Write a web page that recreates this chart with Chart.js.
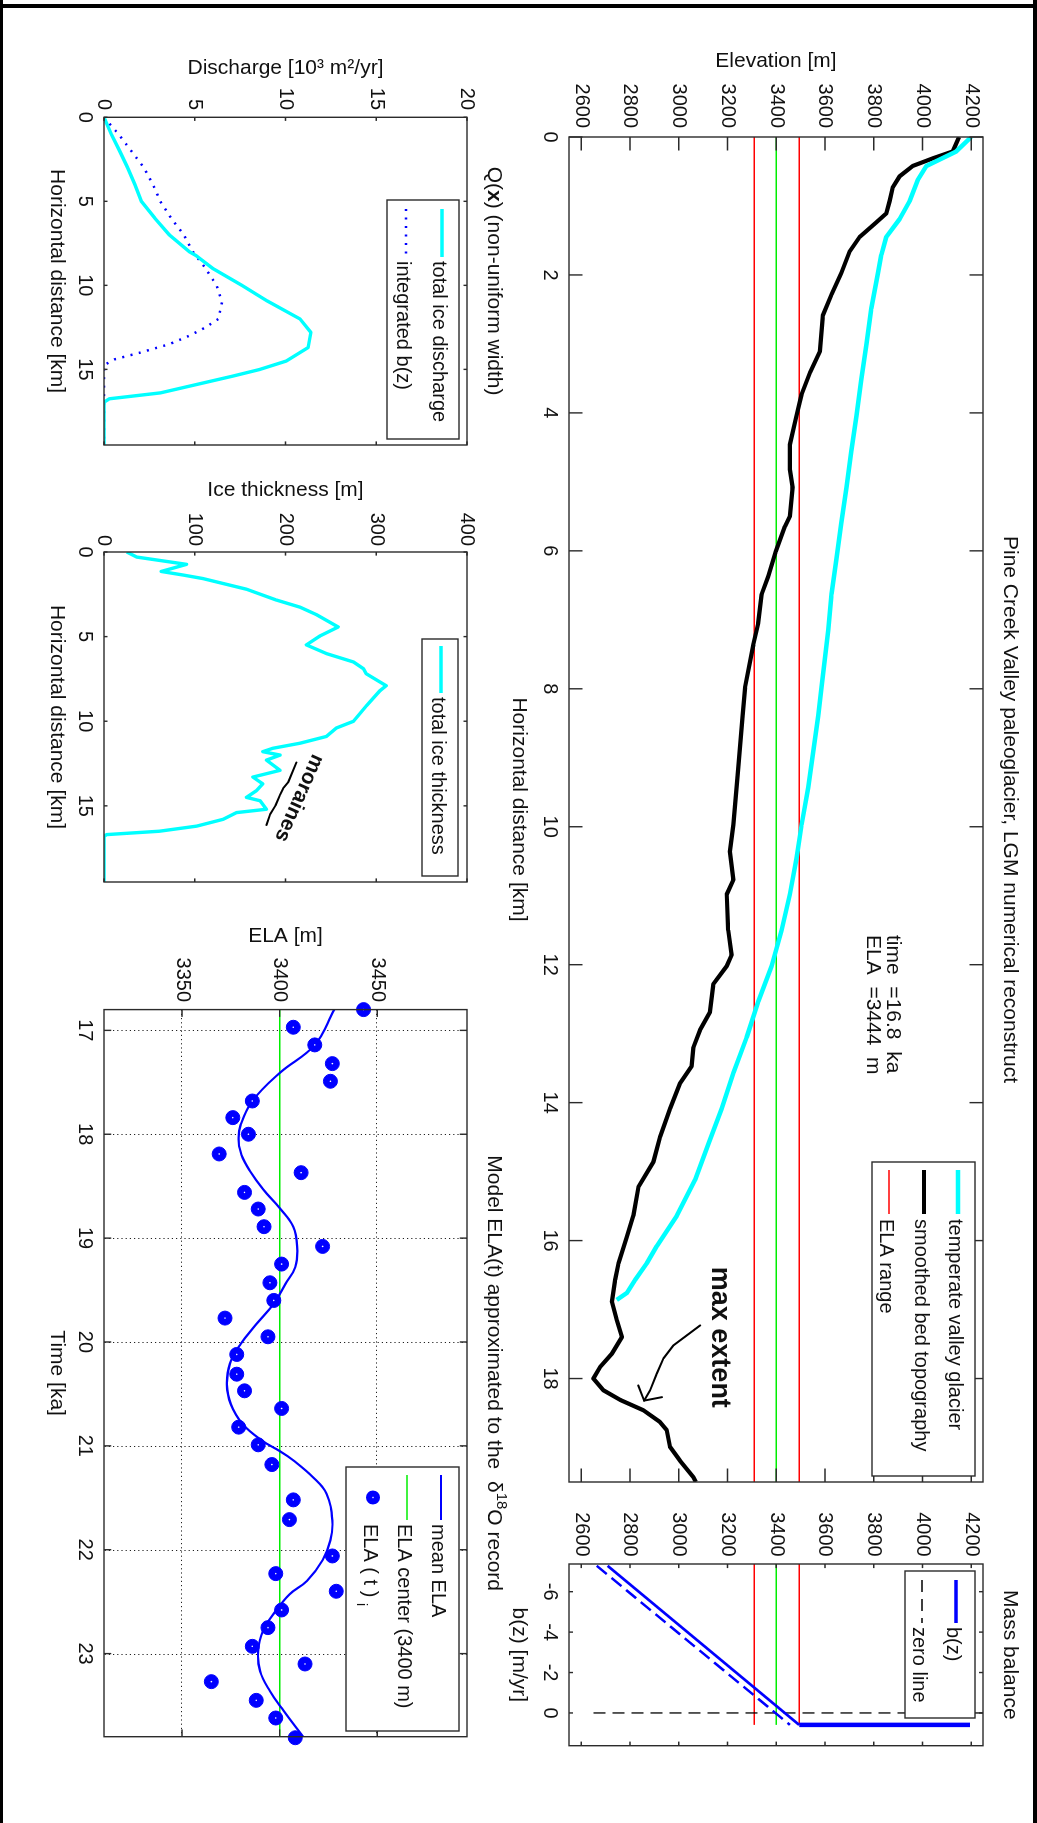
<!DOCTYPE html>
<html>
<head>
<meta charset="utf-8">
<title>Pine Creek Valley paleoglacier</title>
<script src="https://cdn.jsdelivr.net/npm/chart.js@4.4.1/dist/chart.umd.min.js"></script>
<style>
  html, body { margin: 0; padding: 0; background: #fff; }
  #page { position: relative; width: 1037px; height: 1823px; overflow: hidden; background: #fff; }
  /* the figure is laid out in landscape and turned a quarter clockwise */
  #fig { position: absolute; left: 0; top: 0; width: 1823px; height: 1037px;
         transform-origin: 0 0; transform: translate(1037px, 0) rotate(90deg); }
  #fig canvas { position: absolute; left: 0; top: 0; }
  .edge { position: absolute; background: #000; }
</style>
</head>
<body>
<div id="page">
  <div id="fig">
    <canvas id="profileChart" width="1823" height="1037"></canvas>
    <canvas id="massChart" width="1823" height="1037"></canvas>
    <canvas id="dischargeChart" width="1823" height="1037"></canvas>
    <canvas id="thicknessChart" width="1823" height="1037"></canvas>
    <canvas id="elaChart" width="1823" height="1037"></canvas>
  </div>
  <div class="edge" style="left:0;top:0;width:3px;height:1823px"></div>
  <div class="edge" style="left:0;top:4px;width:1037px;height:4px"></div>
  <div class="edge" style="left:1033px;top:0;width:4px;height:1823px"></div>
</div>
<script>
const FAMILY = '"Liberation Sans", Arial, Helvetica, sans-serif';
Chart.defaults.font.family = FAMILY;
Chart.defaults.font.size = 20;
Chart.defaults.color = '#111';

// ---- longitudinal profile ----
const distRange = [0, 19.5];
const distTicks = [0, 2, 4, 6, 8, 10, 12, 14, 16, 18];
const elevRange = [2550, 4248];
const elevTicks = [2600, 2800, 3000, 3200, 3400, 3600, 3800, 4000, 4200];

const glacierDist = [0, 0.21, 0.42, 0.62, 0.93, 1.19, 1.45, 1.71, 1.97, 2.49, 3.0, 3.52, 4.04, 4.56, 5.08, 5.6, 6.11, 6.63, 7.15, 7.98,
  8.39, 8.91, 9.43, 9.97, 10.46, 10.98, 11.5, 12.02, 12.54, 13.05, 13.57, 14.09, 14.6, 15.12, 15.64, 16.08, 16.33, 16.57, 16.76, 16.86];
const glacierElev = [4200, 4138, 4016, 3981, 3947, 3906, 3851, 3831, 3817, 3790, 3770, 3749, 3729, 3708, 3688, 3667, 3647, 3627, 3613, 3586,
  3572, 3552, 3531, 3504, 3483, 3456, 3422, 3381, 3326, 3279, 3224, 3176, 3122, 3067, 2992, 2910, 2869, 2821, 2787, 2746];

const bedDist = [0, 0.21, 0.31, 0.42, 0.57, 0.73, 0.93, 1.11, 1.24, 1.45, 1.66, 1.97, 2.28, 2.59, 3.11, 3.42, 3.73, 4.04, 4.46, 4.82,
  5.08, 5.5, 5.65, 6.01, 6.37, 6.63, 7.05, 7.36, 7.98, 8.39, 9.17, 9.97, 10.36, 10.77, 10.98, 11.5, 11.86, 12.02, 12.28, 12.69,
  12.95, 13.2, 13.47, 13.72, 14.09, 14.5, 14.86, 15.22, 15.64, 15.95, 16.33, 16.57, 16.89, 17.15, 17.4, 17.64, 17.83, 18.0, 18.17, 18.31,
  18.46, 18.63, 18.75, 18.99, 19.19, 19.43, 19.5];
const bedElev = [4150, 4124, 4042, 3960, 3906, 3878, 3865, 3851, 3810, 3742, 3701, 3667, 3627, 3591, 3579, 3538, 3504, 3483, 3456, 3456,
  3467, 3456, 3435, 3398, 3367, 3340, 3326, 3306, 3272, 3262, 3244, 3224, 3210, 3224, 3197, 3203, 3217, 3197, 3142, 3128,
  3087, 3060, 3053, 3005, 2964, 2923, 2896, 2835, 2814, 2787, 2753, 2739, 2726, 2746, 2767, 2726, 2678, 2650, 2691, 2760,
  2855, 2923, 2951, 2964, 3005, 3060, 3070];

const elaLines = [3310, 3400, 3494];   // low, centre, high

const arrowDist = [17.23, 17.52, 17.71, 17.93, 18.17, 18.32];
const arrowElev = [3088, 2978, 2937, 2910, 2883, 2858];
const arrowHeadDist = [18.1, 18.32, 18.27];
const arrowHeadElev = [2834, 2858, 2931];

// ---- mass balance ----
const rateRange = [-7.37, 1.62];
const rateTicks = [-6, -4, -2, 0];
const bzRate = [-7.28, 0.59, 0.59];
const bzElev = [2708, 3494, 4195];
const bzDashRate = [-7.28, 0.59];
const bzDashElev = [2664, 3456];
const zeroRate = [0, 0];
const zeroElev = [2650, 4248];
const rateSpan = [-7.37, 0.59];

// ---- discharge ----
const dischargeTicks = [0, 5, 10, 15, 20];
const smallDistTicks = [0, 5, 10, 15];
const qDist = [0, 1, 2, 3, 4, 5, 6, 7, 8, 8.25, 9, 10, 10.9, 12, 12.8, 13.7, 14.5, 15, 15.4, 15.9, 16.4, 16.75, 16.95, 19.5];
const qTotal = [0, 0.4, 0.86, 1.3, 1.7, 2.06, 2.8, 3.6, 4.7, 5.1, 6.0, 7.6, 8.95, 10.8, 11.4, 11.25, 10.05, 8.6, 7.1, 5.1, 3.1, 0.3, 0, 0];
const qIntDist = [0, 1, 2, 3, 4, 5, 6, 7, 8, 9, 10, 11, 12, 12.5, 13, 13.5, 14, 14.4, 14.75, 19.5];
const qIntB = [0, 0.8, 1.5, 2.2, 2.7, 3.1, 3.7, 4.4, 4.9, 5.6, 6.2, 6.5, 6.3, 5.6, 4.7, 3.6, 2.0, 0.6, 0, 0];

// ---- ice thickness ----
const thickTicks = [0, 100, 200, 300, 400];
const thickDist = [0, 0.3, 0.73, 1.15, 1.36, 1.57, 2.2, 2.84, 3.26, 3.7, 4.43, 4.96, 5.49, 6.0, 6.5, 6.9, 7.2, 7.9, 8.2, 9.1,
  10.0, 10.4, 10.9, 11.3, 11.6, 11.8, 12.0, 12.3, 12.9, 13.3, 13.7, 14.1, 14.5, 14.7, 15.2, 15.4, 15.8, 16.2, 16.5, 16.7, 16.8, 19.5];
const thickIce = [25, 36, 91, 63, 87, 109, 157, 190, 216, 234, 258, 238, 223, 245, 275, 286, 289, 311, 304, 289,
  275, 256, 245, 216, 186, 175, 194, 179, 194, 164, 175, 168, 157, 172, 179, 146, 131, 102, 61, 3, 0, 0];
const moraineDist = [12.44, 13.6, 13.92, 14.34, 14.98, 15.5, 16.13];
const moraineThick = [212, 203, 198, 194, 189, 183, 179];

// ---- model ELA ----
const timeRange = [16.8, 23.8];
const timeTicks = [17, 18, 19, 20, 21, 22, 23];
const elaRange = [3310, 3496];
const elaTicks = [3350, 3400, 3450];
const elaTime = [16.80, 16.97, 17.14, 17.32, 17.49, 17.68, 17.84, 18.00, 18.19, 18.37, 18.56, 18.72, 18.89, 19.08, 19.25, 19.43,
  19.60, 19.77, 19.95, 20.12, 20.31, 20.47, 20.64, 20.82, 20.99, 21.18, 21.52, 21.71, 22.06, 22.23, 22.40, 22.58, 22.75, 22.93,
  23.10, 23.27, 23.45, 23.62, 23.81];
const elaValue = [3443, 3407, 3418, 3427, 3426, 3386, 3376, 3384, 3369, 3411, 3382, 3389, 3392, 3422, 3401, 3395,
  3397, 3372, 3394, 3378, 3378, 3382, 3401, 3379, 3389, 3396, 3407, 3405, 3427, 3398, 3429, 3401, 3394, 3386,
  3413, 3365, 3388, 3398, 3408];
const meanTime = [16.8, 17.14, 17.41, 17.68, 17.91, 18.05, 18.2, 18.36, 18.53, 18.71, 18.89, 19.08, 19.28, 19.44, 19.63, 19.83,
  20.02, 20.21, 20.41, 20.6, 20.79, 20.95, 21.05, 21.14, 21.3, 21.46, 21.72, 21.91, 22.1, 22.3, 22.43, 22.59, 22.78, 22.98,
  23.17, 23.36, 23.55, 23.8];
const meanValue = [3428, 3418, 3400, 3386, 3380, 3379, 3380.5, 3385, 3391.5, 3400, 3407, 3409, 3408, 3403, 3397, 3388,
  3380, 3374.5, 3373, 3375, 3381, 3391, 3400, 3407, 3417, 3424, 3427, 3426, 3422, 3414, 3405, 3398, 3391.5, 3389,
  3390, 3395, 3402, 3412];
const elaCenter = [3400, 3400];

// ---------------------------------------------------------------
function pts(xs, ys) {
  return xs.map((x, i) => ({ x: x, y: ys[i] }));
}

function series(label, xs, ys, color, width, dash) {
  return {
    label: label, data: pts(xs, ys), showLine: true,
    borderColor: color, backgroundColor: color, borderWidth: width, borderDash: dash || [],
    pointRadius: 0, pointHoverRadius: 0, tension: 0, fill: false, borderJoinStyle: 'round'
  };
}

function axis(range, ticks, size, pad, title) {
  return {
    type: 'linear', min: range[0], max: range[1],
    grid: { display: false, drawTicks: false, tickLength: 0 },
    border: { display: false },
    ticks: { padding: pad, color: '#111', font: { size: 20 }, maxRotation: 0, minRotation: 0, autoSkip: false,
             callback: v => String(v) },
    title: { display: !!title, text: title || '', padding: 0, color: '#111', font: { size: 21 } },
    afterBuildTicks: s => { s.ticks = ticks.map(v => ({ value: v })); },
    afterFit: s => {
      if (s.isHorizontal()) s.height = size; else s.width = size;
      s.paddingLeft = 0; s.paddingRight = 0; s.paddingTop = 0; s.paddingBottom = 0;
    }
  };
}

function drawRuns(ctx, runs, x, y, align, size) {
  const fontOf = r => (r.bold ? 'bold ' : '') + ((r.sup || r.sub) ? Math.round(size * 0.7) : size) + 'px ' + FAMILY;
  let total = 0;
  const widths = runs.map(r => { ctx.font = fontOf(r); const w = ctx.measureText(r.t).width; total += w; return w; });
  let cx = align === 'center' ? x - total / 2 : x;
  ctx.textAlign = 'left';
  runs.forEach((r, i) => {
    ctx.font = fontOf(r);
    const dy = r.sup ? -size * 0.42 : (r.sub ? size * 0.35 : 0);
    ctx.fillText(r.t, cx, y + dy);
    cx += widths[i];
  });
}

function drawNote(chart, n) {
  const ctx = chart.ctx, sx = chart.scales.x, sy = chart.scales.y;
  ctx.save();
  if (n.kind === 'path') {
    ctx.strokeStyle = n.color; ctx.lineWidth = n.width; ctx.lineJoin = 'round'; ctx.lineCap = 'round';
    n.paths.forEach(p => {
      ctx.beginPath();
      p[0].forEach((v, i) => {
        const px = sx.getPixelForValue(v), py = sy.getPixelForValue(p[1][i]);
        if (i) ctx.lineTo(px, py); else ctx.moveTo(px, py);
      });
      ctx.stroke();
    });
  } else {
    ctx.translate(sx.getPixelForValue(n.x), sy.getPixelForValue(n.y));
    ctx.rotate((n.angle || 0) * Math.PI / 180);
    ctx.fillStyle = '#111'; ctx.font = n.font;
    ctx.textAlign = n.align || 'left'; ctx.textBaseline = n.baseline || 'alphabetic';
    n.lines.forEach((s, i) => ctx.fillText(s, 0, i * (n.gap || 0)));
  }
  ctx.restore();
}

function drawLegend(chart, L) {
  const ctx = chart.ctx;
  ctx.save();
  ctx.fillStyle = '#fff';
  ctx.fillRect(L.box[0], L.box[1], L.box[2] - L.box[0], L.box[3] - L.box[1]);
  ctx.strokeStyle = '#2b2b2b'; ctx.lineWidth = 1.4;
  ctx.strokeRect(L.box[0], L.box[1], L.box[2] - L.box[0], L.box[3] - L.box[1]);
  L.rows.forEach(r => {
    const ds = chart.data.datasets[r.ds];
    const y = r.y - 9;
    if (r.marker) {
      const cx = (L.sample[0] + L.sample[1]) / 2;
      ctx.fillStyle = ds.backgroundColor;
      ctx.beginPath(); ctx.arc(cx, y, ds.pointRadius, 0, 2 * Math.PI); ctx.fill();
      ctx.fillStyle = '#fff';
      ctx.beginPath(); ctx.arc(cx, y, 0.8, 0, 2 * Math.PI); ctx.fill();
    } else {
      ctx.strokeStyle = ds.borderColor; ctx.lineWidth = r.width || ds.borderWidth;
      ctx.setLineDash(ds.borderDash || []);
      ctx.beginPath(); ctx.moveTo(L.sample[0], y); ctx.lineTo(L.sample[1], y); ctx.stroke();
      ctx.setLineDash([]);
    }
    ctx.fillStyle = '#111'; ctx.textBaseline = 'alphabetic';
    drawRuns(ctx, r.runs || [{ t: ds.label }], L.textX, r.y, 'left', 20);
  });
  ctx.restore();
}

// box, inward ticks, grid, notes, title and legend in the MATLAB manner
function decor(o) {
  return {
    id: 'decor',
    beforeDatasetsDraw(chart) {
      if (!o.grid) return;
      const { ctx, chartArea: a } = chart;
      const sx = chart.scales.x, sy = chart.scales.y;
      ctx.save();
      ctx.strokeStyle = '#222'; ctx.lineWidth = 1; ctx.setLineDash([1.2, 3]);
      ctx.beginPath();
      sx.ticks.forEach(t => { const p = Math.round(sx.getPixelForValue(t.value)) + 0.5; ctx.moveTo(p, a.top); ctx.lineTo(p, a.bottom); });
      sy.ticks.forEach(t => { const p = Math.round(sy.getPixelForValue(t.value)) + 0.5; ctx.moveTo(a.left, p); ctx.lineTo(a.right, p); });
      ctx.stroke();
      ctx.restore();
    },
    afterDatasetsDraw(chart) {
      const { ctx, chartArea: a } = chart;
      const sx = chart.scales.x, sy = chart.scales.y, len = o.tick;
      ctx.save();
      ctx.strokeStyle = '#2b2b2b'; ctx.lineWidth = 1.4;
      ctx.strokeRect(a.left, a.top, a.right - a.left, a.bottom - a.top);
      ctx.beginPath();
      sx.ticks.forEach(t => {
        const p = sx.getPixelForValue(t.value);
        ctx.moveTo(p, a.bottom); ctx.lineTo(p, a.bottom - len);
        ctx.moveTo(p, a.top); ctx.lineTo(p, a.top + len);
      });
      sy.ticks.forEach(t => {
        const p = sy.getPixelForValue(t.value);
        ctx.moveTo(a.left, p); ctx.lineTo(a.left + len, p);
        ctx.moveTo(a.right, p); ctx.lineTo(a.right - len, p);
      });
      ctx.stroke();
      ctx.restore();
      (o.notes || []).forEach(n => drawNote(chart, n));
      if (o.title) {
        ctx.save();
        ctx.fillStyle = '#111'; ctx.textBaseline = 'alphabetic';
        drawRuns(ctx, o.title, (a.left + a.right) / 2, a.top - 21, 'center', 21);
        ctx.restore();
      }
    },
    afterDraw(chart) {
      if (o.legend) drawLegend(chart, o.legend);
    }
  };
}

function panel(id, datasets, o) {
  return new Chart(document.getElementById(id), {
    type: 'scatter',
    data: { datasets: datasets },
    options: {
      responsive: false, animation: false, devicePixelRatio: 1, events: [],
      layout: { padding: o.pad },
      plugins: { legend: { display: false }, tooltip: { enabled: false }, title: { display: false } },
      scales: { x: o.x, y: o.y }
    },
    plugins: [decor(o)]
  });
}

// ---- main profile ----
panel('profileChart', [
  series('temperate valley glacier', glacierDist, glacierElev, '#00ffff', 4.5),
  series('smoothed bed topography', bedDist, bedElev, '#000000', 4.2),
  series('ELA range', distRange, [elaLines[0], elaLines[0]], '#ff0000', 1.5),
  series('ELA centre', distRange, [elaLines[1], elaLines[1]], '#00ee00', 1.5),
  series('ELA range high', distRange, [elaLines[2], elaLines[2]], '#ff0000', 1.5)
], {
  pad: { left: 48.8, top: 54, right: 341, bottom: 506.4 },
  x: axis(distRange, distTicks, 62.6, 7, 'Horizontal distance [km]'),
  y: axis(elevRange, elevTicks, 88.2, 9, 'Elevation [m]'),
  tick: 13.5,
  title: [{ t: 'Pine Creek Valley paleoglacier, LGM numerical reconstruct' }],
  notes: [
    { kind: 'text', x: 11.57, y: 3855, font: '21px ' + FAMILY, lines: ['time  =16.8  ka', 'ELA  =3444  m'], gap: 20 },
    { kind: 'text', x: 16.38, y: 3137, font: 'bold 27px ' + FAMILY, lines: ['max extent'] },
    { kind: 'path', color: '#000', width: 2, paths: [[arrowDist, arrowElev], [arrowHeadDist, arrowHeadElev]] }
  ],
  legend: {
    box: [1162, 62, 1476, 165], sample: [1170, 1214], textX: 1219,
    rows: [{ ds: 0, y: 88 }, { ds: 1, y: 122 }, { ds: 2, y: 157 }]
  }
});

// ---- mass balance ----
const bzSolid = series('b(z)', bzRate, bzElev, '#0000ff', 2.7);
bzSolid.segment = { borderWidth: c => (c.p0DataIndex === 1 ? 4.5 : 2.7) };
panel('massChart', [
  bzSolid,
  series('b(z) dashed', bzDashRate, bzDashElev, '#0000ff', 2.5, [13, 6]),
  series('zero line', zeroRate, zeroElev, '#000000', 1.3, [12, 7]),
  series('ELA low', rateSpan, [elaLines[0], elaLines[0]], '#ff0000', 1.5),
  series('ELA centre', rateSpan, [elaLines[1], elaLines[1]], '#00ee00', 1.5),
  series('ELA high', rateSpan, [elaLines[2], elaLines[2]], '#ff0000', 1.5)
], {
  pad: { left: 1504, top: 54, right: 77.3, bottom: 506.4 },
  x: axis(rateRange, rateTicks, 62.6, 7, 'b(z) [m/yr]'),
  y: axis(elevRange, elevTicks, 60, 7.3, ''),
  tick: 4.1,
  title: [{ t: 'Mass balance' }],
  legend: {
    box: [1571, 62, 1718, 132], sample: [1580, 1623], textX: 1627,
    rows: [{ ds: 0, y: 90, width: 3.5 }, { ds: 2, y: 124 }]
  }
});

// ---- discharge ----
panel('dischargeChart', [
  series('total ice discharge', qDist, qTotal, '#00ffff', 3.4),
  series('integrated b(z)', qIntDist, qIntB, '#0000ff', 2.5, [2, 6.5])
], {
  pad: { left: 56.1, top: 570, right: 1378, bottom: 44.4 },
  x: axis(distRange, smallDistTicks, 59.6, 7, 'Horizontal distance [km]'),
  y: axis([0, 20], dischargeTicks, 61.2, 7.3, 'Discharge [10\u00b3 m\u00b2/yr]'),
  tick: 3.6,
  title: [{ t: 'Q(' }, { t: 'x', bold: true }, { t: ') (non-uniform width)' }],
  legend: {
    box: [200, 578, 439, 650], sample: [209, 257], textX: 261,
    rows: [{ ds: 0, y: 604 }, { ds: 1, y: 640 }]
  }
});

// ---- ice thickness ----
panel('thicknessChart', [
  series('total ice thickness', thickDist, thickIce, '#00ffff', 3.4)
], {
  pad: { left: 477.6, top: 570, right: 941, bottom: 44.4 },
  x: axis(distRange, smallDistTicks, 59.6, 7, 'Horizontal distance [km]'),
  y: axis([0, 400], thickTicks, 74.4, 6, 'Ice thickness [m]'),
  tick: 3.6,
  notes: [
    { kind: 'path', color: '#000', width: 2, paths: [[moraineDist, moraineThick]] },
    { kind: 'text', x: 14.54, y: 215, font: 'bold 21px ' + FAMILY, lines: ['moraines'], angle: 24, align: 'center', baseline: 'middle' }
  ],
  legend: {
    box: [639, 579, 876, 615], sample: [646, 693], textX: 697,
    rows: [{ ds: 0, y: 605 }]
  }
});

// ---- model ELA ----
const elaDots = { label: 'ELA ( t ) i', data: pts(elaTime, elaValue), showLine: false, pointStyle: 'circle',
  pointRadius: 7, pointHoverRadius: 7, backgroundColor: '#0000ff', borderColor: '#0000ff', borderWidth: 1, clip: false };
const elaDotCentres = { label: 'centres', data: pts(elaTime, elaValue), showLine: false, pointStyle: 'circle',
  pointRadius: 0.8, pointHoverRadius: 0.8, backgroundColor: '#ffffff', borderWidth: 0, clip: false };
const meanLine = series('mean ELA', meanTime, meanValue, '#0000ff', 2.2);
meanLine.tension = 0.4;
panel('elaChart', [
  elaDotCentres,
  elaDots,
  meanLine,
  series('ELA center (3400 m)', timeRange, elaCenter, '#00ee00', 1.5)
], {
  pad: { left: 923.6, top: 570, right: 86.3, bottom: 44.4 },
  x: axis(timeRange, timeTicks, 59.6, 7, 'Time [ka]'),
  y: axis(elaRange, elaTicks, 86, 7.6, 'ELA [m]'),
  tick: 7.3,
  grid: true,
  title: [{ t: 'Model ELA(t) approximated to the  \u03b4' }, { t: '18', sup: true }, { t: 'O record' }],
  legend: {
    box: [1467, 578, 1731, 691], sample: [1475, 1520], textX: 1524,
    rows: [{ ds: 2, y: 605 }, { ds: 3, y: 639 }, { ds: 1, y: 673, marker: true, runs: [{ t: 'ELA ( t ) ' }, { t: 'i', sub: true }] }]
  }
});
</script>
</body>
</html>
